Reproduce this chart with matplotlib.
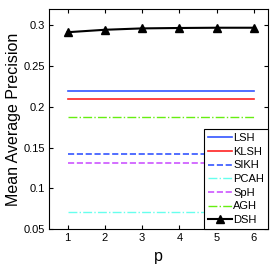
import matplotlib
matplotlib.use("Agg")
import matplotlib.pyplot as plt

plt.rcParams["font.family"] = ["Liberation Sans", "DejaVu Sans"]

p = [1, 2, 3, 4, 5, 6]
lsh = [0.219] * 6
klsh = [0.210] * 6
sikh = [0.1425] * 6
pcah = [0.0707] * 6
sph = [0.1305] * 6
agh = [0.188] * 6
dsh = [0.2915, 0.2945, 0.2962, 0.2967, 0.297, 0.297]

fig = plt.figure(figsize=(2.78, 2.64), dpi=100)
ax = fig.add_axes([49 / 278, 1 - 229 / 264, 219 / 278, 220 / 264])

ax.plot(p, lsh, "-", color="#3355ff", lw=1.2, label="LSH")
ax.plot(p, klsh, "-", color="#ff2222", lw=1.2, label="KLSH")
ax.plot(p, sikh, "--", color="#3355ff", lw=1.2, label="SIKH")
ax.plot(p, pcah, "-.", color="#66ffee", lw=1.0, label="PCAH")
ax.plot(p, sph, "--", color="#cc55ff", lw=1.2, label="SpH")
ax.plot(p, agh, "-.", color="#66ee11", lw=1.0, label="AGH")
ax.plot(p, dsh, "-", color="black", lw=1.5, marker="^", ms=5.5, label="DSH")

ax.set_xlim(0.5, 6.38)
ax.set_ylim(0.05, 0.32)
ax.set_xticks(p)
ax.set_yticks([0.05, 0.1, 0.15, 0.2, 0.25, 0.3])
ax.set_yticklabels(["0.05", "0.1", "0.15", "0.2", "0.25", "0.3"])
ax.tick_params(direction="in", top=True, right=True, labelsize=8, length=3, pad=3)
for s in ax.spines.values():
    s.set_linewidth(0.8)

ax.set_xlabel("p", fontsize=11.5, labelpad=4)
ax.set_ylabel("Mean Average Precision", fontsize=11.5, labelpad=2)

leg = ax.legend(loc="lower right", fontsize=8, frameon=True, fancybox=False,
                edgecolor="black", framealpha=1, borderaxespad=0,
                handlelength=2.1, handletextpad=0.15, labelspacing=0.33,
                borderpad=0.35)
leg.get_frame().set_linewidth(0.8)

fig.savefig("out.png", dpi=100)
